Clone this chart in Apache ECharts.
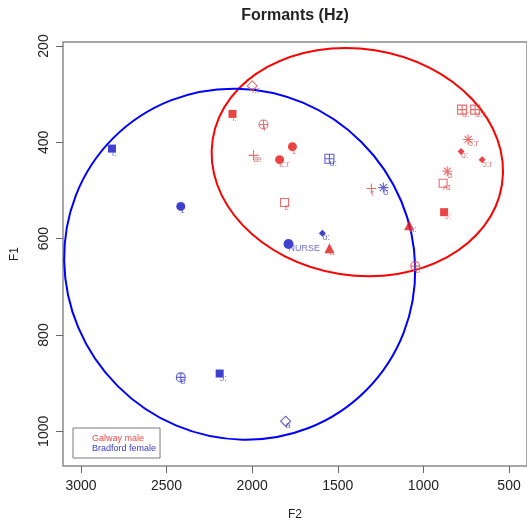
<!DOCTYPE html>
<html><head><meta charset="utf-8">
<script src="https://cdn.jsdelivr.net/npm/echarts@6/dist/echarts.min.js"></script>
<style>html,body{margin:0;padding:0;background:#fff}#c{width:527px;height:526px}</style>
</head><body><div id="c"></div>
<script>
// ---- data (F2, F1 in Hz) ----
const maleF2 = [2000, 2115, 1934, 1765, 1992, 1840, 1811, 1549, 1304, 1083, 1048, 879, 885, 861, 774, 698, 739, 780, 657];
const maleF1 = [283, 341, 363, 409, 427, 436, 525, 620, 496, 572, 657, 545, 485, 460, 332, 332, 394, 419, 436];
const maleVowels = ['i:r', 'i:', 'i', 'ɪ', 'æ', 'ɛ:r', 'ɛ', 'a', 'r', 'a:', 'ɒ', 'ɔ:', 'ʌɪ', 'ʊ', 'u:', 'u:r', 'o:r', 'o:', 'ɔ:r'];
const femaleF2 = [2819, 2417, 1549, 1234, 1788, 1590, 2417, 2190, 1805];
const femaleF1 = [413, 533, 434, 494, 611, 589, 888, 880, 979];
const femaleVowels = ['i:', 'ɪ', 'u:', 'ʊ', 'NURSE', 'o:', 'ɒ', 'ɔ:', 'a'];
// ellipse: [centre F2, centre F1, semi-axis (F2 Hz), semi-axis (F1 Hz), tilt deg]
const maleEllipse = [1386, 441, 855, 235, 8.9];
const femaleEllipse = [2073, 653, 1043, 358, 45];
const xTicks = [3000, 2500, 2000, 1500, 1000, 500];
const yTicks = [200, 400, 600, 800, 1000];
const seriesNames = ['Galway male', 'Bradford female'];

// ---- marker styles ----
const maleMarkers = ['odia', 'sq', 'cplus', 'ci', 'plus', 'ci', 'osq', 'tri', 'plus', 'tri', 'cplus', 'sq', 'osq', 'ast', 'sqplus', 'sqplus', 'ast', 'dia', 'dia'];
const femaleMarkers = ['sq', 'ci', 'sqplus', 'ast', 'ciL', 'dia', 'cplus', 'sq', 'odia'];
const SYM = {
  sq: {s: 'rect', size: 8, fill: true},
  ci: {s: 'circle', size: 9, fill: true},
  ciL: {s: 'circle', size: 10, fill: true},
  tri: {s: 'triangle', size: 10, fill: true},
  dia: {s: 'diamond', size: 7, fill: true},
  odia: {s: 'diamond', size: 10, fill: false},
  osq: {s: 'rect', size: 8, fill: false},
  plus: {s: 'path://M5,0V10M0,5H10', size: 10, fill: false},
  ast: {s: 'path://M5,0V10M0,5H10M1.46,1.46L8.54,8.54M8.54,1.46L1.46,8.54', size: 10, fill: false},
  cplus: {s: 'path://M0,5A5,5,0,1,1,10,5A5,5,0,1,1,0,5ZM5,0V10M0,5H10', size: 9, fill: false},
  sqplus: {s: 'path://M0,0H10V10H0ZM5,0V10M0,5H10', size: 9, fill: false}
};
const RED = '#e41414', RED_LINE = '#e24848', RED_TXT = '#d65c5c';
const BLUE = '#1010c4', BLUE_LINE = '#3838c4', BLUE_TXT = '#4a4ac6';
const FONT = 'Liberation Sans, Arial, Helvetica, sans-serif';

function build(f2, f1, names, marks, fillC, lineC) {
  return f2.map((v, i) => {
    const m = SYM[marks[i]];
    return {
      value: [v, f1[i]], name: names[i], symbol: m.s, symbolSize: m.size,
      itemStyle: m.fill ? {color: fillC, borderWidth: 0}
                        : {color: 'rgba(255,255,255,0)', borderColor: lineC, borderWidth: 1.1}
    };
  });
}
function ellipseRender(color) {
  return function (params, api) {
    const c = api.coord([api.value(0), api.value(1)]);
    const s = api.size([api.value(2), api.value(3)], [api.value(0), api.value(1)]);
    return {
      type: 'ellipse', x: c[0], y: c[1], rotation: -api.value(4) * Math.PI / 180,
      shape: {cx: 0, cy: 0, rx: s[0], ry: s[1]},
      style: {fill: 'none', stroke: color, lineWidth: 2}
    };
  };
}
function pointLabel(color) {
  return {show: true, formatter: '{b}', position: 'inside', align: 'left', verticalAlign: 'top',
          offset: [0, 4], fontSize: 9, fontFamily: FONT, color: color};
}
const plain = v => String(v);

const chart = echarts.init(document.getElementById('c'), null, {renderer: 'canvas'});
chart.setOption({
  animation: false,
  backgroundColor: '#fff',
  textStyle: {fontFamily: FONT},
  graphic: [{type: 'text', x: 295, y: 16, silent: true,
    style: {text: 'Formants (Hz)', align: 'center', verticalAlign: 'middle',
            font: 'bold 16px ' + FONT, fill: '#222'}}],
  grid: {left: 63, top: 42, right: -1, bottom: 58, show: true, borderColor: '#8a8a8a', borderWidth: 1.5, backgroundColor: '#fff'},
  legend: {
    orient: 'vertical', left: 73, top: 428, padding: [6, 4, 5, 14], itemGap: 1,
    itemWidth: 0, itemHeight: 0, selectedMode: false,
    borderColor: '#7a7a7a', borderWidth: 1, backgroundColor: '#fff',
    textStyle: {fontSize: 9, fontFamily: FONT},
    data: [{name: seriesNames[0], textStyle: {color: '#f04a4a'}},
           {name: seriesNames[1], textStyle: {color: '#3a3ad0'}}]
  },
  xAxis: {
    type: 'value', inverse: true, min: 395, max: 3105,
    axisLine: {show: false}, splitLine: {show: false},
    axisTick: {show: true, length: 7, customValues: xTicks, lineStyle: {color: '#666', width: 1}},
    axisLabel: {customValues: xTicks, formatter: plain, margin: 13, fontSize: 14, color: '#222', fontFamily: FONT},
    name: 'F2', nameLocation: 'middle', nameGap: 43,
    nameTextStyle: {fontSize: 12, color: '#222', fontFamily: FONT}
  },
  yAxis: {
    type: 'value', inverse: true, min: 191.7, max: 1072,
    axisLine: {show: false}, splitLine: {show: false},
    axisTick: {show: true, length: 7, customValues: yTicks, lineStyle: {color: '#666', width: 1}},
    axisLabel: {customValues: yTicks, formatter: plain, rotate: 90, margin: 12, fontSize: 14, color: '#222', fontFamily: FONT},
    name: 'F1', nameLocation: 'middle', nameGap: 42,
    nameTextStyle: {fontSize: 12, color: '#222', fontFamily: FONT}
  },
  series: [
    {type: 'custom', name: 'male ellipse', silent: true, renderItem: ellipseRender('#ff0000'),
     encode: {x: 0, y: 1}, data: [maleEllipse], z: 1},
    {type: 'custom', name: 'female ellipse', silent: true, renderItem: ellipseRender('#0000ff'),
     encode: {x: 0, y: 1}, data: [femaleEllipse], z: 1},
    {type: 'scatter', name: seriesNames[0], z: 3, silent: true, itemStyle: {color: RED},
     label: pointLabel(RED_TXT), labelLayout: {hideOverlap: false},
     data: build(maleF2, maleF1, maleVowels, maleMarkers, RED, RED_LINE)},
    {type: 'scatter', name: seriesNames[1], z: 3, silent: true, itemStyle: {color: BLUE},
     label: pointLabel(BLUE_TXT), labelLayout: {hideOverlap: false},
     data: build(femaleF2, femaleF1, femaleVowels, femaleMarkers, BLUE, BLUE_LINE)}
  ]
});
</script>
</body></html>
